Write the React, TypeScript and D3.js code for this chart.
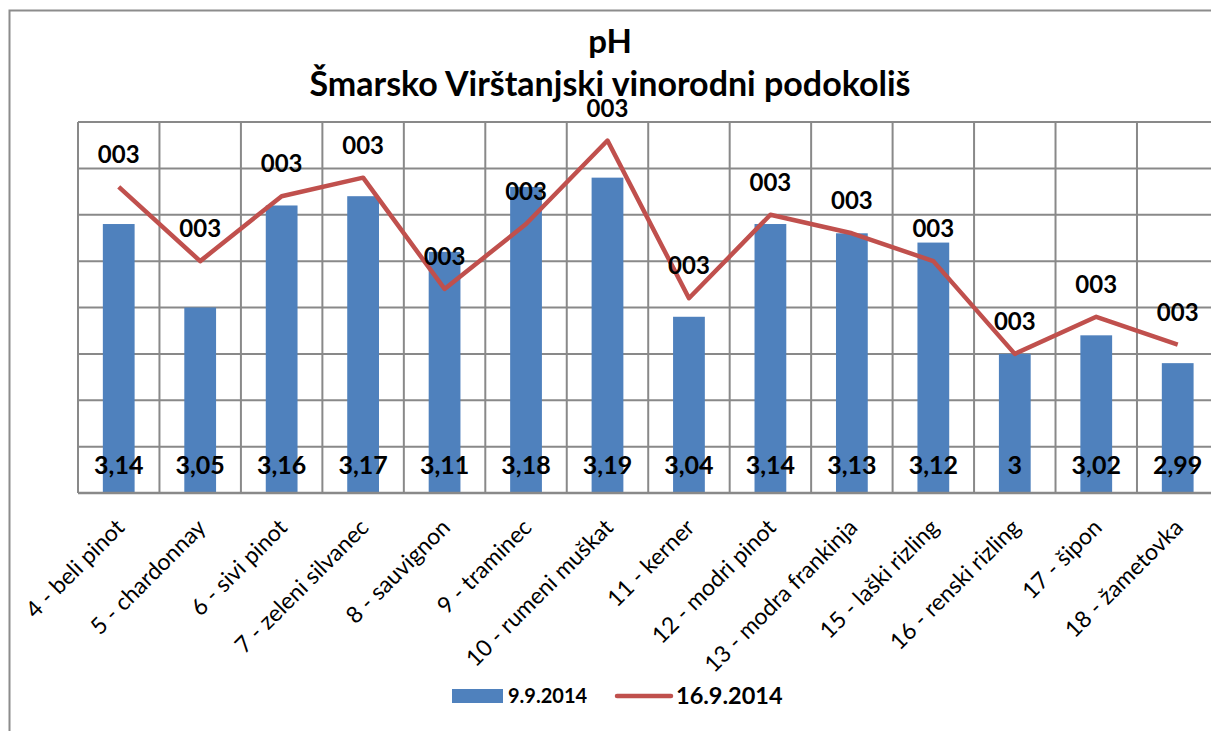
import React from "react";
import * as d3 from "d3";

const categories = [
  "4 - beli pinot",
  "5 - chardonnay",
  "6 - sivi pinot",
  "7 - zeleni silvanec",
  "8 - sauvignon",
  "9 - traminec",
  "10 - rumeni muškat",
  "11 - kerner",
  "12 - modri pinot",
  "13 - modra frankinja",
  "15 - laški rizling",
  "16 - renski rizling",
  "17 - šipon",
  "18 - žametovka",
];
const ph0909 = [3.14, 3.05, 3.16, 3.17, 3.11, 3.18, 3.19, 3.04, 3.14, 3.13, 3.12, 3.0, 3.02, 2.99];
const ph1609 = [3.18, 3.1, 3.17, 3.19, 3.07, 3.14, 3.23, 3.06, 3.15, 3.13, 3.1, 3.0, 3.04, 3.01];
const yTicks = [2.85, 2.9, 2.95, 3.0, 3.05, 3.1, 3.15, 3.2, 3.25];
const lineLabel = "003"; // broken number format in the original
const seriesNames = ["9.9.2014", "16.9.2014"];

const slFormat = d3.formatLocale({
  decimal: ",",
  thousands: ".",
  grouping: [3],
  currency: ["", " €"],
}).format("~g");

const font = "Lato, 'Open Sans', sans-serif";
const barColor = "#4F81BD";
const lineColor = "#C0504D";
const gridColor = "#898989";

export default function App() {
  const left = 78;
  const top = 122;
  const bottom = 493;
  const step = 81.46;

  const x = d3
    .scaleBand()
    .domain(categories)
    .range([left, left + step * categories.length])
    .padding(0);
  const y = d3.scaleLinear().domain([2.85, 3.25]).range([bottom, top]);
  const bw = x.bandwidth() * 0.39;
  const cx = (c) => x(c) + x.bandwidth() / 2;

  const line = d3
    .line()
    .x((d, i) => cx(categories[i]))
    .y((d) => y(d));

  return (
    <svg
      width={1211}
      height={731}
      style={{ position: "absolute", left: 0, top: 0, background: "#fff" }}
      fontFamily={font}
    >
      {/* chart border */}
      <rect x={9.5} y={10.5} width={1400} height={900} fill="#fff" stroke="#8c8c8c" strokeWidth={2} />

      {/* title */}
      <text x={610} y={53} textAnchor="middle" fontWeight="bold" fontSize={33}>
        pH
      </text>
      <text x={610} y={96} textAnchor="middle" fontWeight="bold" fontSize={34}>
        Šmarsko Virštanjski vinorodni podokoliš
      </text>

      {/* gridlines */}
      {yTicks.map((t) => (
        <line key={t} x1={left} x2={1300} y1={y(t)} y2={y(t)} stroke={gridColor} strokeWidth={2} />
      ))}
      {d3.range(categories.length + 1).map((i) => (
        <line
          key={i}
          x1={left + i * x.step()}
          x2={left + i * x.step()}
          y1={top}
          y2={bottom}
          stroke={gridColor}
          strokeWidth={2}
        />
      ))}

      {/* bars */}
      {ph0909.map((v, i) => (
        <rect
          key={i}
          x={cx(categories[i]) - bw / 2}
          y={y(v)}
          width={bw}
          height={bottom - y(v)}
          fill={barColor}
        />
      ))}
      <line x1={left} x2={1300} y1={bottom} y2={bottom} stroke={gridColor} strokeWidth={2.5} />

      {/* line */}
      <path d={line(ph1609)} fill="none" stroke={lineColor} strokeWidth={4.5} strokeLinejoin="round" />

      {/* bar labels */}
      {ph0909.map((v, i) => (
        <text
          key={i}
          x={cx(categories[i])}
          y={474}
          textAnchor="middle"
          fontWeight="bold"
          fontSize={25}
        >
          {slFormat(v)}
        </text>
      ))}

      {/* line labels */}
      {ph1609.map((v, i) => (
        <text
          key={i}
          x={cx(categories[i])}
          y={y(v) - 24}
          textAnchor="middle"
          fontWeight="bold"
          fontSize={24}
        >
          {lineLabel}
        </text>
      ))}

      {/* x labels */}
      {categories.map((c) => (
        <text
          key={c}
          transform={`translate(${cx(c) + 7},${529}) rotate(-45)`}
          textAnchor="end"
          fontSize={23}
        >
          {c}
        </text>
      ))}

      {/* legend */}
      <rect x={452} y={689} width={51} height={14} fill={barColor} />
      <text x={508} y={703} fontWeight="bold" fontSize={20}>
        {seriesNames[0]}
      </text>
      <line x1={617} x2={671} y1={696} y2={696} stroke={lineColor} strokeWidth={4.5} strokeLinecap="round" />
      <text x={676} y={704} fontWeight="bold" fontSize={23.5}>
        {seriesNames[1]}
      </text>
    </svg>
  );
}
